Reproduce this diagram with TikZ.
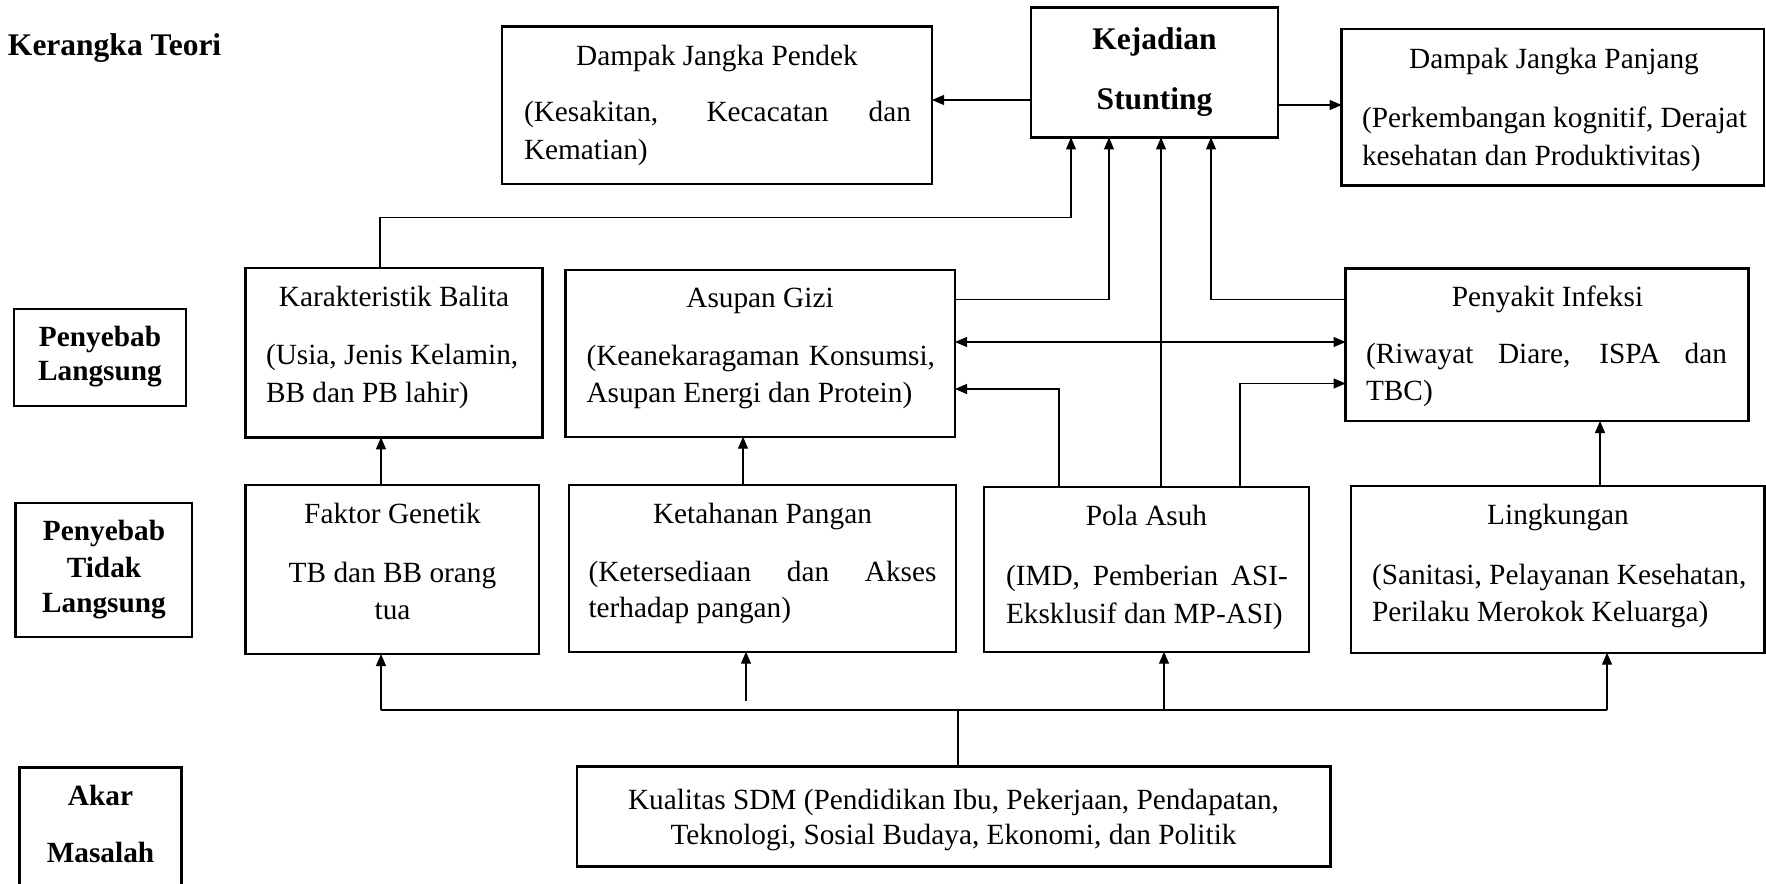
\documentclass[tikz,border=0pt]{standalone}
\usepackage{fontspec}
\setmainfont{Liberation Serif}
\usetikzlibrary{arrows.meta}
\begin{document}
\begin{tikzpicture}[x=1pt,y=-1pt,
  box/.style={draw, line width=2.4pt, inner sep=0pt, outer sep=0pt},
  tx/.style={inner sep=0pt, outer sep=0pt, font=\fontsize{29.3}{36}\selectfont},
  bx/.style={inner sep=0pt, outer sep=0pt, font=\fontsize{29.3}{36}\selectfont\bfseries},
  bigbx/.style={inner sep=0pt, outer sep=0pt, font=\fontsize{31.5}{36}\selectfont\bfseries},
  con/.style={line width=1.1pt},
  arr/.style={con, -{Triangle[length=12pt,width=10pt]}},
  darr/.style={con, {Triangle[length=12pt,width=10pt]}-{Triangle[length=12pt,width=10pt]}}]
\useasboundingbox (0,0) rectangle (1766,883);

% ---------- boxes ----------
\node[box, minimum width=430pt, minimum height=157.3pt] (pendek) at (717,105.35) {};
\node[box, minimum width=247pt, minimum height=129.9pt] (stunting) at (1154.5,72.45) {};
\node[box, minimum width=422.4pt, minimum height=156.5pt] (panjang) at (1552.8,107.25) {};
\node[box, minimum width=296.9pt, minimum height=169.6pt] (karak) at (394.05,352.5) {};
\node[box, minimum width=389.4pt, minimum height=166.7pt] (asupan) at (760.3,353.35) {};
\node[box, minimum width=403pt, minimum height=152.7pt] (infeksi) at (1547.1,344.65) {};
\node[box, minimum width=172.25pt, minimum height=96.7pt] (lblA) at (99.9,357.35) {};
\node[box, minimum width=293.2pt, minimum height=169pt] (genetik) at (392.2,569.5) {};
\node[box, minimum width=387.2pt, minimum height=166.7pt] (pangan) at (762.4,568.35) {};
\node[box, minimum width=176.4pt, minimum height=133.7pt] (lblB) at (103.8,569.85) {};
\node[box, minimum width=325.1pt, minimum height=164.7pt] (asuh) at (1146.25,569.35) {};
\node[box, minimum width=413.5pt, minimum height=166.7pt] (lingk) at (1557.75,569.35) {};
\node[box, minimum width=161.7pt, minimum height=132.7pt] (lblC) at (100.45,833.65) {};
\node[box, minimum width=753.6pt, minimum height=100pt] (sdm) at (953.8,816.5) {};

% ---------- texts ----------
\node[bigbx, anchor=base west] (judul) at (8,56) {Kerangka Teori};

\node[tx, anchor=base] (pendekT) at (717,66) {Dampak Jangka Pendek};
\node[tx, anchor=base west] (pendekA) at (524,121.5) {\makebox[387pt][s]{(Kesakitan, Kecacatan dan}};
\node[tx, anchor=base west] (pendekB) at (524,159) {Kematian)};

\node[bigbx, anchor=base] (stuntingA) at (1154.5,49.5) {Kejadian};
\node[bigbx, anchor=base] (stuntingB) at (1154.5,109) {Stunting};

\node[tx, anchor=base] (panjangT) at (1554,69) {Dampak Jangka Panjang};
\node[tx, anchor=base west] (panjangA) at (1362,127) {(Perkembangan kognitif, Derajat};
\node[tx, anchor=base west] (panjangB) at (1362,165) {kesehatan dan Produktivitas)};

\node[tx, anchor=base] (karakT) at (394,306.5) {Karakteristik Balita};
\node[tx, anchor=base west] (karakA) at (266,364.5) {(Usia, Jenis Kelamin,};
\node[tx, anchor=base west] (karakB) at (266,402) {BB dan PB lahir)};

\node[tx, anchor=base] (asupanT) at (760,307) {Asupan Gizi};
\node[tx, anchor=base west] (asupanA) at (586.5,365.5) {\makebox[348.5pt][s]{(Keanekaragaman Konsumsi,}};
\node[tx, anchor=base west] (asupanB) at (586.5,402.5) {Asupan Energi dan Protein)};

\node[tx, anchor=base] (infeksiT) at (1547.5,306.5) {Penyakit Infeksi};
\node[tx, anchor=base west] (infeksiA) at (1366,363) {\makebox[361pt][s]{(Riwayat Diare, ISPA dan}};
\node[tx, anchor=base west] (infeksiB) at (1366,400) {TBC)};

\node[bx, anchor=base] (lblA1) at (100,346.5) {Penyebab};
\node[bx, anchor=base] (lblA2) at (100,380.5) {Langsung};

\node[tx, anchor=base] (genetikT) at (392.5,523) {Faktor Genetik};
\node[tx, anchor=base] (genetikA) at (392.5,582) {TB dan BB orang};
\node[tx, anchor=base] (genetikB) at (392.5,619) {tua};

\node[tx, anchor=base] (panganT) at (762.5,523) {Ketahanan Pangan};
\node[tx, anchor=base west] (panganA) at (588.5,581) {\makebox[348pt][s]{(Ketersediaan dan Akses}};
\node[tx, anchor=base west] (panganB) at (588.5,617.5) {terhadap pangan)};

\node[bx, anchor=base] (lblB1) at (104,540.5) {Penyebab};
\node[bx, anchor=base] (lblB2) at (104,577) {Tidak};
\node[bx, anchor=base] (lblB3) at (104,612.5) {Langsung};

\node[tx, anchor=base] (asuhT) at (1146.5,525) {Pola Asuh};
\node[tx, anchor=base west] (asuhA) at (1006,585) {\makebox[282pt][s]{(IMD, Pemberian ASI-}};
\node[tx, anchor=base west] (asuhB) at (1006,623) {Eksklusif dan MP-ASI)};

\node[tx, anchor=base] (lingkT) at (1558,524.5) {Lingkungan};
\node[tx, anchor=base west] (lingkA) at (1372,584) {(Sanitasi, Pelayanan Kesehatan,};
\node[tx, anchor=base west] (lingkB) at (1372,621) {Perilaku Merokok Keluarga)};

\node[bx, anchor=base] (lblC1) at (100.5,805) {Akar};
\node[bx, anchor=base] (lblC2) at (100.5,862) {Masalah};

\node[tx, anchor=base] (sdmA) at (953.5,809) {Kualitas SDM (Pendidikan Ibu, Pekerjaan, Pendapatan,};
\node[tx, anchor=base] (sdmB) at (953.5,844) {Teknologi, Sosial Budaya, Ekonomi, dan Politik};

% ---------- connectors ----------
\draw[arr] (stunting.west |- 0,100) -- (pendek.east |- 0,100);
\draw[arr] (stunting.east |- 0,105) -- (panjang.west |- 0,105);

\coordinate (kTurn) at (1071,217.7);
\draw[arr] (karak.north -| 380,0) |- (kTurn) -- (stunting.south -| kTurn);
\draw[arr] (asupan.east |- 0,299.3) -| (stunting.south -| 1109,0);
\draw[arr] (asuh.north -| 1161,0) -- (stunting.south -| 1161,0);
\draw[arr] (infeksi.west |- 0,299.3) -| (stunting.south -| 1211,0);

\draw[darr] (asupan.east |- 0,342) -- (infeksi.west |- 0,342);
\draw[arr] (asuh.north -| 1059,0) |- (asupan.east |- 0,389);
\draw[arr] (asuh.north -| 1240,0) |- (infeksi.west |- 0,383.5);
\draw[arr] (lingk.north -| 1600,0) -- (infeksi.south -| 1600,0);

\draw[arr] (genetik.north -| 381,0) -- (karak.south -| 381,0);
\draw[arr] (pangan.north -| 743,0) -- (asupan.south -| 743,0);

\coordinate (busL) at (381,710);
\coordinate (busR) at (1607,710);
\coordinate (busM) at (958,710);
\coordinate (busP) at (746,700.5);
\coordinate (busA) at (1164,710);
\draw[con] (sdm.north -| busM) -- (busM);
\draw[con] (busL) -- (busR);
\draw[arr] (busL) -- (genetik.south -| busL);
\draw[arr] (busP) -- (pangan.south -| busP);
\draw[arr] (busA) -- (asuh.south -| busA);
\draw[arr] (busR) -- (lingk.south -| busR);
\end{tikzpicture}
\end{document}
